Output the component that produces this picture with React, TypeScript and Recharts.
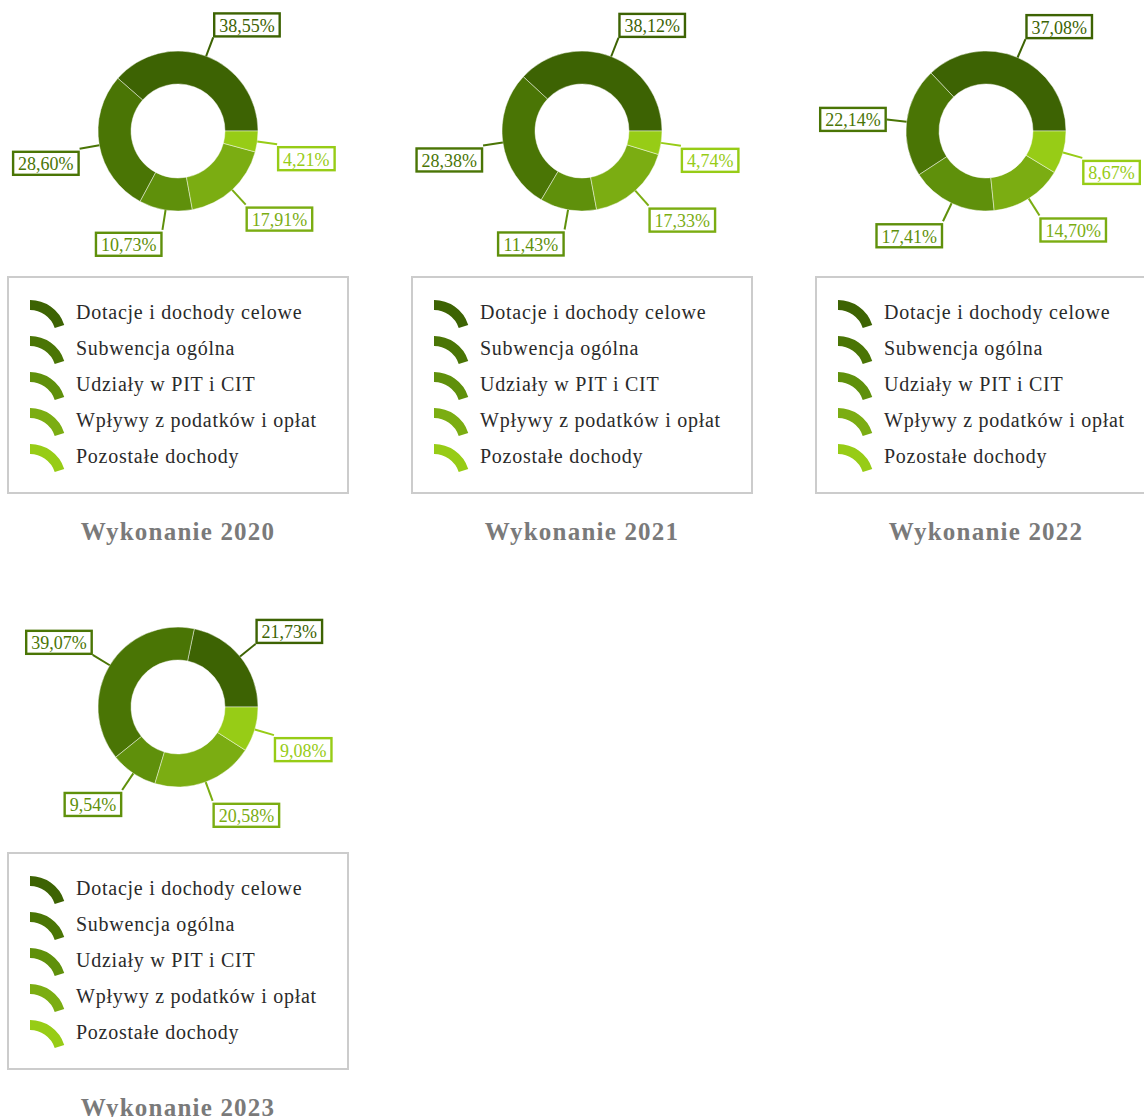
import type { ReactElement } from "react";
import { Cell, Legend, Pie, PieChart } from "recharts";

// Revenue structure donuts, one per year, each with its own boxed legend.

const CATEGORIES = [
  "Dotacje i dochody celowe",
  "Subwencja ogólna",
  "Udziały w PIT i CIT",
  "Wpływy z podatków i opłat",
  "Pozostałe dochody",
];

const COLORS = ["#3d6303", "#4a7505", "#5f900b", "#7bad12", "#97cc16"];

const YEARS = ["2020", "2021", "2022", "2023"];

const SHARES_2020 = [38.55, 28.6, 10.73, 17.91, 4.21];
const SHARES_2021 = [38.12, 28.38, 11.43, 17.33, 4.74];
const SHARES_2022 = [37.08, 22.14, 17.41, 14.7, 8.67];
const SHARES_2023 = [21.73, 39.07, 9.54, 20.58, 9.08];

const SHARES = [SHARES_2020, SHARES_2021, SHARES_2022, SHARES_2023];

const FONT = '"Liberation Serif", "Times New Roman", serif';
const LABEL_SIZE = 18;
const RADIAN = Math.PI / 180;

const PANEL_W = 404;
const PANEL_H = 576;

function formatPct(v: number): string {
  return v.toFixed(2).replace(".", ",") + "%";
}

// NOTE: rough Times metrics, good enough to size the label boxes
function textWidth(s: string): number {
  let em = 0;
  for (const ch of s) {
    if (ch === ",") em += 0.25;
    else if (ch === "%") em += 0.833;
    else em += 0.5;
  }
  return em * LABEL_SIZE;
}

function renderLabel(props: any): ReactElement {
  const { cx, cy, midAngle, outerRadius, value, index } = props;
  const color = COLORS[index % COLORS.length];
  const cos = Math.cos(-midAngle * RADIAN);
  const sin = Math.sin(-midAngle * RADIAN);
  const sx = cx + outerRadius * cos;
  const sy = cy + outerRadius * sin;
  const ax = cx + (outerRadius + 20) * cos;
  const ay = cy + (outerRadius + 20) * sin;
  const text = formatPct(value);
  const w = textWidth(text) + 12;
  const h = 25;
  const bx = cos >= 0 ? ax : ax - w;
  const up = -sin;
  const by = up < 0 ? ay + 2 : up > 0.3 ? ay - h : ay - h / 2;
  return (
    <g>
      <line x1={sx} y1={sy} x2={ax} y2={ay} stroke={color} strokeWidth={2} />
      <rect
        x={bx + 1}
        y={by + 1}
        width={w - 2}
        height={h - 2}
        fill="#fff"
        stroke={color}
        strokeWidth={2.4}
      />
      <text
        x={bx + w / 2}
        y={by + h / 2 + 1}
        textAnchor="middle"
        dominantBaseline="central"
        fill={color}
        fontFamily={FONT}
        fontSize={LABEL_SIZE}
      >
        {text}
      </text>
    </g>
  );
}

function LegendIcon({ color }: { color: string }): ReactElement {
  // quarter-ring swatch, like a slice of the donut
  const cx = 0;
  const cy = 42;
  const ro = 36;
  const ri = 26;
  const a0 = 92 * RADIAN;
  const a1 = 18 * RADIAN;
  const p = (r: number, a: number) =>
    `${cx + r * Math.cos(a)},${cy - r * Math.sin(a)}`;
  const d = `M${p(ro, a0)} A${ro},${ro} 0 0 1 ${p(ro, a1)} L${p(ri, a1)} A${ri},${ri} 0 0 0 ${p(ri, a0)} Z`;
  return (
    <svg width={40} height={36} style={{ display: "block", flex: "none" }}>
      <path d={d} fill={color} />
    </svg>
  );
}

function LegendBox(): ReactElement {
  return (
    <div
      style={{
        boxSizing: "border-box",
        width: 342,
        height: 218,
        border: "2px solid #cccccc",
        padding: "16px 0 0 21px",
        background: "#fff",
      }}
    >
      {CATEGORIES.map((name, i) => (
        <div
          key={name}
          style={{ display: "flex", alignItems: "center", height: 36 }}
        >
          <LegendIcon color={COLORS[i]} />
          <span
            style={{
              marginLeft: 6,
              fontFamily: FONT,
              fontSize: 20,
              letterSpacing: 0.75,
              color: "#2a2a2a",
              whiteSpace: "nowrap",
            }}
          >
            {name}
          </span>
        </div>
      ))}
    </div>
  );
}

function YearPanel({
  year,
  shares,
  left,
  top,
}: {
  year: string;
  shares: number[];
  left: number;
  top: number;
}): ReactElement {
  const data = CATEGORIES.map((name, i) => ({ name, value: shares[i] }));
  return (
    <div
      style={{
        position: "absolute",
        left,
        top,
        width: PANEL_W,
        height: PANEL_H,
      }}
    >
      <PieChart
        width={PANEL_W}
        height={500}
        margin={{ top: 0, right: 0, bottom: 0, left: 0 }}
      >
        <Pie
          data={data}
          dataKey="value"
          nameKey="name"
          cx={178}
          cy={131}
          innerRadius={47}
          outerRadius={80}
          startAngle={0}
          endAngle={360}
          stroke="rgba(255,255,255,0.45)"
          strokeWidth={1}
          labelLine={false}
          label={renderLabel}
          isAnimationActive={false}
        >
          {data.map((d, i) => (
            <Cell key={d.name} fill={COLORS[i % COLORS.length]} />
          ))}
        </Pie>
        <Legend
          content={() => <LegendBox />}
          wrapperStyle={{ left: 7, top: 276, width: 342, height: 218, bottom: "auto" }}
        />
      </PieChart>
      <div
        style={{
          position: "absolute",
          left: 7,
          top: 516,
          width: 342,
          lineHeight: "32px",
          textAlign: "center",
          fontFamily: FONT,
          fontWeight: "bold",
          fontSize: 25,
          letterSpacing: 1.2,
          color: "#7a7a7a",
        }}
      >
        Wykonanie {year}
      </div>
    </div>
  );
}

export default function App(): ReactElement {
  return (
    <div
      style={{
        position: "absolute",
        left: 0,
        top: 0,
        width: 1144,
        height: 1117,
        overflow: "hidden",
        background: "#fff",
      }}
    >
      {YEARS.map((year, i) => (
        <YearPanel
          key={year}
          year={year}
          shares={SHARES[i]}
          left={(i % 3) * PANEL_W}
          top={Math.floor(i / 3) * PANEL_H}
        />
      ))}
    </div>
  );
}
